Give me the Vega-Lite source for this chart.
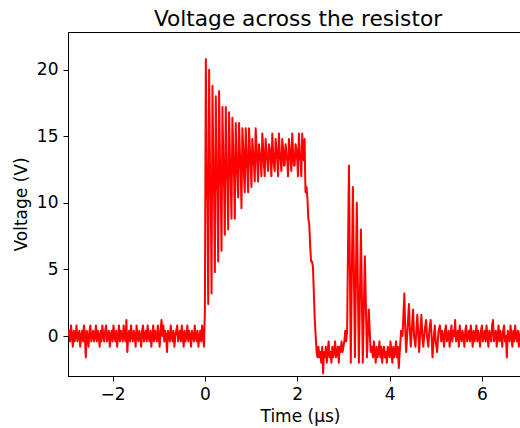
{
"$schema": "https://vega.github.io/schema/vega-lite/v6.json",
"width": 452,
"height": 344,
"autosize": "none",
"padding": {"left": 68, "top": 32, "right": 0, "bottom": 52},
"title": {"text": "Voltage across the resistor", "font": "DejaVu Sans", "fontSize": 21.7, "fontWeight": "normal", "color": "black", "anchor": "middle", "baseline": "alphabetic", "offset": 7, "dx": 4, "dy": 23},
"data": {"values": [
{"t":-2.96,"v":0},{"t":-2.94,"v":0.4},{"t":-2.92,"v":-0.4},{"t":-2.90,"v":0.8},{"t":-2.88,"v":0},{"t":-2.86,"v":-0.8},{"t":-2.84,"v":0.4},{"t":-2.82,"v":-0.4},{"t":-2.80,"v":0},{"t":-2.78,"v":0.8},
{"t":-2.76,"v":-0.4},{"t":-2.74,"v":0},{"t":-2.72,"v":0.4},{"t":-2.70,"v":-0.8},{"t":-2.68,"v":0},{"t":-2.66,"v":0.4},{"t":-2.64,"v":-0.4},{"t":-2.62,"v":0.8},{"t":-2.60,"v":0},{"t":-2.58,"v":-1.6},
{"t":-2.56,"v":0.4},{"t":-2.54,"v":0},{"t":-2.52,"v":-0.8},{"t":-2.50,"v":0.4},{"t":-2.48,"v":0.8},{"t":-2.46,"v":-0.4},{"t":-2.44,"v":0},{"t":-2.42,"v":0.4},{"t":-2.40,"v":-0.4},{"t":-2.38,"v":0},
{"t":-2.36,"v":0.8},{"t":-2.34,"v":-0.4},{"t":-2.32,"v":0.4},{"t":-2.30,"v":0},{"t":-2.28,"v":-0.8},{"t":-2.26,"v":0.4},{"t":-2.24,"v":-0.4},{"t":-2.22,"v":0.8},{"t":-2.20,"v":0},{"t":-2.18,"v":-0.4},
{"t":-2.16,"v":0.4},{"t":-2.14,"v":0.8},{"t":-2.12,"v":-0.4},{"t":-2.10,"v":0},{"t":-2.08,"v":0.4},{"t":-2.06,"v":-0.8},{"t":-2.04,"v":0},{"t":-2.02,"v":0.4},{"t":-2.00,"v":-0.4},{"t":-1.98,"v":0.8},
{"t":-1.96,"v":0},{"t":-1.94,"v":-0.4},{"t":-1.92,"v":0.4},{"t":-1.90,"v":-0.8},{"t":-1.88,"v":0},{"t":-1.86,"v":0.8},{"t":-1.84,"v":-0.4},{"t":-1.82,"v":0.4},{"t":-1.80,"v":0},{"t":-1.78,"v":-0.4},
{"t":-1.76,"v":0.8},{"t":-1.74,"v":0},{"t":-1.72,"v":-0.4},{"t":-1.70,"v":1.2},{"t":-1.68,"v":-1.2},{"t":-1.66,"v":0},{"t":-1.64,"v":0.4},{"t":-1.62,"v":-0.4},{"t":-1.60,"v":0.8},{"t":-1.58,"v":0},
{"t":-1.56,"v":-0.4},{"t":-1.54,"v":0.4},{"t":-1.52,"v":0},{"t":-1.50,"v":-0.8},{"t":-1.48,"v":0.8},{"t":-1.46,"v":0},{"t":-1.44,"v":-0.4},{"t":-1.42,"v":0.4},{"t":-1.40,"v":0},{"t":-1.38,"v":-0.8},
{"t":-1.36,"v":0.4},{"t":-1.34,"v":0.8},{"t":-1.32,"v":-0.4},{"t":-1.30,"v":0},{"t":-1.28,"v":0.4},{"t":-1.26,"v":-0.4},{"t":-1.24,"v":0.8},{"t":-1.22,"v":0},{"t":-1.20,"v":-0.4},{"t":-1.18,"v":0.4},
{"t":-1.16,"v":-0.8},{"t":-1.14,"v":0},{"t":-1.12,"v":0.8},{"t":-1.10,"v":-0.4},{"t":-1.08,"v":0.4},{"t":-1.06,"v":0},{"t":-1.04,"v":-0.4},{"t":-1.02,"v":0.8},{"t":-1.00,"v":0},{"t":-0.98,"v":-0.8},
{"t":-0.96,"v":0.4},{"t":-0.94,"v":1.2},{"t":-0.92,"v":0},{"t":-0.90,"v":0.8},{"t":-0.88,"v":-0.4},{"t":-0.86,"v":0.4},{"t":-0.84,"v":0},{"t":-0.82,"v":-1.2},{"t":-0.80,"v":0.4},{"t":-0.78,"v":0},
{"t":-0.76,"v":-0.4},{"t":-0.74,"v":0.8},{"t":-0.72,"v":0},{"t":-0.70,"v":-0.4},{"t":-0.68,"v":0.4},{"t":-0.66,"v":-0.8},{"t":-0.64,"v":0},{"t":-0.62,"v":0.4},{"t":-0.60,"v":0.8},{"t":-0.58,"v":-0.4},
{"t":-0.56,"v":0},{"t":-0.54,"v":0.4},{"t":-0.52,"v":-0.4},{"t":-0.50,"v":0.8},{"t":-0.48,"v":0},{"t":-0.46,"v":-0.8},{"t":-0.44,"v":0.4},{"t":-0.42,"v":-0.4},{"t":-0.40,"v":0},{"t":-0.38,"v":0.8},
{"t":-0.36,"v":-0.4},{"t":-0.34,"v":0.4},{"t":-0.32,"v":0},{"t":-0.30,"v":-0.8},{"t":-0.28,"v":0.4},{"t":-0.26,"v":0},{"t":-0.24,"v":-0.4},{"t":-0.22,"v":0.8},{"t":-0.20,"v":0},{"t":-0.18,"v":-0.4},
{"t":-0.16,"v":0.4},{"t":-0.14,"v":-0.8},{"t":-0.12,"v":0},{"t":-0.10,"v":0.4},{"t":-0.08,"v":-0.4},{"t":-0.06,"v":0.8},{"t":-0.04,"v":0},{"t":-0.02,"v":-0.8},
{"t":0.000,"v":2.0},{"t":0.020,"v":20.8},{"t":0.040,"v":12.4},{"t":0.056,"v":10.0},
{"t":0.072,"v":2.4},{"t":0.092,"v":20.0},{"t":0.112,"v":12.0},{"t":0.128,"v":10.4},
{"t":0.144,"v":3.2},{"t":0.164,"v":18.8},{"t":0.184,"v":12.8},{"t":0.200,"v":10.4},
{"t":0.216,"v":4.8},{"t":0.236,"v":18.0},{"t":0.256,"v":12.4},{"t":0.272,"v":10.8},
{"t":0.288,"v":5.6},{"t":0.308,"v":18.4},{"t":0.328,"v":12.8},{"t":0.344,"v":11.2},
{"t":0.360,"v":6.4},{"t":0.380,"v":17.2},{"t":0.400,"v":13.2},{"t":0.416,"v":11.2},
{"t":0.432,"v":7.6},{"t":0.452,"v":17.2},{"t":0.472,"v":12.8},{"t":0.488,"v":11.6},
{"t":0.504,"v":8.0},{"t":0.524,"v":16.8},{"t":0.544,"v":13.2},{"t":0.560,"v":11.6},
{"t":0.576,"v":8.8},{"t":0.596,"v":16.4},{"t":0.616,"v":13.6},{"t":0.632,"v":12.0},
{"t":0.648,"v":8.8},{"t":0.668,"v":16.0},{"t":0.688,"v":13.2},{"t":0.704,"v":12.0},
{"t":0.720,"v":10.4},{"t":0.740,"v":16.0},{"t":0.760,"v":13.6},{"t":0.776,"v":12.4},
{"t":0.792,"v":9.6},{"t":0.812,"v":15.6},{"t":0.832,"v":14.0},{"t":0.848,"v":12.0},
{"t":0.864,"v":10.8},{"t":0.884,"v":15.6},{"t":0.904,"v":13.6},{"t":0.920,"v":12.4},
{"t":0.936,"v":10.8},{"t":0.956,"v":15.6},{"t":0.976,"v":14.0},{"t":0.992,"v":12.8},
{"t":1.008,"v":11.2},{"t":1.028,"v":14.8},{"t":1.048,"v":13.6},{"t":1.064,"v":12.8},
{"t":1.080,"v":11.6},{"t":1.100,"v":15.6},{"t":1.120,"v":14.0},{"t":1.136,"v":12.8},
{"t":1.152,"v":11.6},{"t":1.172,"v":14.4},{"t":1.192,"v":13.6},{"t":1.208,"v":13.2},
{"t":1.224,"v":12.0},{"t":1.244,"v":15.2},{"t":1.264,"v":14.0},{"t":1.280,"v":12.8},
{"t":1.296,"v":12.0},{"t":1.316,"v":14.8},{"t":1.336,"v":13.6},{"t":1.352,"v":13.2},
{"t":1.368,"v":12.4},{"t":1.388,"v":14.4},{"t":1.408,"v":14.0},{"t":1.424,"v":13.2},
{"t":1.440,"v":12.0},{"t":1.460,"v":15.2},{"t":1.480,"v":13.6},{"t":1.496,"v":12.8},
{"t":1.512,"v":12.4},{"t":1.532,"v":14.8},{"t":1.552,"v":14.0},{"t":1.568,"v":13.2},
{"t":1.584,"v":12.0},{"t":1.604,"v":15.2},{"t":1.624,"v":13.6},{"t":1.640,"v":13.2},
{"t":1.656,"v":12.4},{"t":1.676,"v":14.8},{"t":1.696,"v":14.0},{"t":1.712,"v":12.8},
{"t":1.728,"v":12.8},{"t":1.748,"v":14.4},{"t":1.768,"v":13.6},{"t":1.784,"v":13.2},
{"t":1.800,"v":12.0},{"t":1.820,"v":14.8},{"t":1.840,"v":14.0},{"t":1.856,"v":13.2},
{"t":1.872,"v":12.4},{"t":1.892,"v":15.2},{"t":1.912,"v":13.6},{"t":1.928,"v":12.8},
{"t":1.944,"v":12.8},{"t":1.964,"v":14.4},{"t":1.984,"v":14.0},{"t":2.000,"v":13.2},
{"t":2.016,"v":12.0},{"t":2.036,"v":15.2},{"t":2.056,"v":13.6},{"t":2.072,"v":13.2},
{"t":2.088,"v":12.0},{"t":2.108,"v":15.2},{"t":2.128,"v":13.6},{"t":2.144,"v":13.2},
{"t":2.16,"v":14.8},{"t":2.17,"v":12.4},{"t":2.18,"v":10.8},{"t":2.20,"v":11.2},{"t":2.22,"v":10.4},{"t":2.24,"v":8.8},{"t":2.26,"v":8.4},{"t":2.28,"v":6.8},{"t":2.30,"v":5.6},{"t":2.32,"v":5.6},{"t":2.34,"v":5.2},{"t":2.36,"v":3.2},{"t":2.38,"v":1.2},{"t":2.40,"v":0},{"t":2.42,"v":-1.2},
{"t":2.44,"v":-1.6},{"t":2.46,"v":-0.8},{"t":2.48,"v":-1.6},{"t":2.50,"v":-1.2},{"t":2.52,"v":-2.0},{"t":2.54,"v":-0.8},{"t":2.56,"v":-2.8},{"t":2.58,"v":-1.2},{"t":2.60,"v":-1.6},{"t":2.62,"v":-0.8},
{"t":2.64,"v":-2.0},{"t":2.66,"v":-1.2},{"t":2.68,"v":-0.4},{"t":2.70,"v":-1.6},{"t":2.72,"v":-1.2},{"t":2.74,"v":-2.0},{"t":2.76,"v":-0.8},{"t":2.78,"v":-1.6},{"t":2.80,"v":-1.2},{"t":2.82,"v":-0.4},
{"t":2.84,"v":-1.6},{"t":2.86,"v":-1.2},{"t":2.88,"v":-0.8},{"t":2.90,"v":-2.0},{"t":2.92,"v":-0.8},{"t":2.94,"v":-1.2},{"t":2.96,"v":-0.4},{"t":2.98,"v":-1.2},{"t":3.00,"v":-0.8},{"t":3.02,"v":-0.4},
{"t":3.04,"v":0.4},{"t":3.06,"v":-0.4},{"t":3.08,"v":0.4},{"t":3.12,"v":12.8},{"t":3.16,"v":-2.0},{"t":3.205,"v":11.2},{"t":3.25,"v":-1.6},{"t":3.29,"v":10.0},{"t":3.335,"v":-2.0},{"t":3.38,"v":8.0},{"t":3.42,"v":-2.0},{"t":3.465,"v":6.0},{"t":3.51,"v":-1.6},{"t":3.55,"v":2.0},{"t":3.59,"v":-1.2},
{"t":3.62,"v":-0.8},{"t":3.64,"v":-1.6},{"t":3.66,"v":-0.4},{"t":3.68,"v":-1.2},{"t":3.70,"v":-2.0},{"t":3.72,"v":-0.8},{"t":3.74,"v":-1.6},{"t":3.76,"v":-1.2},{"t":3.78,"v":-0.4},{"t":3.80,"v":-1.6},
{"t":3.82,"v":-0.8},{"t":3.84,"v":-2.0},{"t":3.86,"v":-1.2},{"t":3.88,"v":-0.8},{"t":3.90,"v":-1.6},{"t":3.92,"v":-1.2},{"t":3.94,"v":-2.0},{"t":3.96,"v":-0.8},{"t":3.98,"v":-1.2},{"t":4.00,"v":-1.6},
{"t":4.02,"v":-0.4},{"t":4.04,"v":-1.2},{"t":4.06,"v":-2.0},{"t":4.08,"v":-0.8},{"t":4.10,"v":-1.6},{"t":4.12,"v":-1.2},{"t":4.14,"v":-0.4},{"t":4.16,"v":-1.6},{"t":4.18,"v":-0.8},{"t":4.20,"v":-2.4},
{"t":4.22,"v":-1.2},{"t":4.25,"v":0.4},{"t":4.28,"v":0},{"t":4.32,"v":3.2},{"t":4.34,"v":0.4},{"t":4.36,"v":-1.2},{"t":4.38,"v":0},{"t":4.42,"v":2.4},{"t":4.44,"v":0.4},{"t":4.46,"v":-0.8},
{"t":4.48,"v":0.4},{"t":4.51,"v":2.0},{"t":4.53,"v":0},{"t":4.56,"v":-0.8},{"t":4.58,"v":0.4},{"t":4.60,"v":1.6},{"t":4.62,"v":0.4},{"t":4.64,"v":-1.2},{"t":4.66,"v":0},{"t":4.69,"v":1.6},
{"t":4.71,"v":0},{"t":4.73,"v":-0.8},{"t":4.76,"v":0.4},{"t":4.79,"v":1.2},{"t":4.81,"v":0},{"t":4.84,"v":-0.8},{"t":4.86,"v":0.4},{"t":4.89,"v":1.2},{"t":4.91,"v":0},{"t":4.93,"v":-1.6},
{"t":4.96,"v":0},{"t":4.98,"v":0.8},{"t":5.00,"v":-0.4},{"t":5.03,"v":-1.2},{"t":5.06,"v":0.4},{"t":5.09,"v":0.8},
{"t":5.12,"v":-0.4},{"t":5.14,"v":0.4},{"t":5.16,"v":0},{"t":5.18,"v":-0.8},{"t":5.20,"v":0.4},{"t":5.22,"v":0.8},{"t":5.24,"v":-0.4},{"t":5.26,"v":0},{"t":5.28,"v":0.4},{"t":5.30,"v":-0.8},
{"t":5.32,"v":0},{"t":5.34,"v":0.8},{"t":5.36,"v":-0.4},{"t":5.38,"v":0.4},{"t":5.40,"v":0},{"t":5.42,"v":1.2},{"t":5.44,"v":-0.4},{"t":5.46,"v":0},{"t":5.48,"v":0.4},{"t":5.50,"v":-0.8},
{"t":5.52,"v":0.8},{"t":5.54,"v":0},{"t":5.56,"v":-0.4},{"t":5.58,"v":0.4},{"t":5.60,"v":0},{"t":5.62,"v":-0.8},{"t":5.64,"v":0.4},{"t":5.66,"v":0.8},{"t":5.68,"v":-0.4},{"t":5.70,"v":0},
{"t":5.72,"v":0.4},{"t":5.74,"v":-0.4},{"t":5.76,"v":0.8},{"t":5.78,"v":0},{"t":5.80,"v":-0.8},{"t":5.82,"v":0.4},{"t":5.84,"v":-0.4},{"t":5.86,"v":0},{"t":5.88,"v":0.8},{"t":5.90,"v":-0.4},
{"t":5.92,"v":0.4},{"t":5.94,"v":0},{"t":5.96,"v":-0.8},{"t":5.98,"v":0.4},{"t":6.00,"v":0.8},{"t":6.02,"v":-0.4},{"t":6.04,"v":0},{"t":6.06,"v":0.4},{"t":6.08,"v":-0.4},{"t":6.10,"v":0.8},
{"t":6.12,"v":0},{"t":6.14,"v":-0.8},{"t":6.16,"v":0.4},{"t":6.18,"v":0},{"t":6.20,"v":-0.4},{"t":6.22,"v":0.8},{"t":6.24,"v":1.2},{"t":6.26,"v":-0.4},{"t":6.28,"v":0},{"t":6.30,"v":0.4},
{"t":6.32,"v":-0.8},{"t":6.34,"v":0},{"t":6.36,"v":0.8},{"t":6.38,"v":-0.4},{"t":6.40,"v":0.4},{"t":6.42,"v":0},{"t":6.44,"v":-0.8},{"t":6.46,"v":0.4},{"t":6.48,"v":0.8},{"t":6.50,"v":-0.4},
{"t":6.52,"v":0},{"t":6.54,"v":-1.6},{"t":6.56,"v":0.4},{"t":6.58,"v":0},{"t":6.60,"v":-0.4},{"t":6.62,"v":0.8},{"t":6.64,"v":0},{"t":6.66,"v":-0.8},{"t":6.68,"v":0.4},{"t":6.70,"v":-0.4},
{"t":6.72,"v":0.8},{"t":6.74,"v":0},{"t":6.76,"v":-0.4},{"t":6.78,"v":0.4},{"t":6.80,"v":-0.8},{"t":6.82,"v":0},{"t":6.84,"v":0.4},{"t":6.86,"v":-0.4},{"t":6.88,"v":0.8},{"t":6.90,"v":0}
]},
"mark": {"type": "line", "color": "#ff0000", "strokeWidth": 2, "strokeJoin": "round", "clip": true},
"encoding": {
"x": {"field": "t", "type": "quantitative", "sort": null,
"scale": {"domain": [-2.965, 6.825], "nice": false, "zero": false},
"axis": {"values": [-2, 0, 2, 4, 6], "title": "Time (μs)", "labelExpr": "replace(datum.label, '-', '−')", "labelPadding": 5, "titlePadding": 6, "labelFlush": false, "titleX": 232}},
"y": {"field": "v", "type": "quantitative",
"scale": {"domain": [-3.0, 22.83], "nice": false, "zero": false},
"axis": {"values": [0, 5, 10, 15, 20], "title": "Voltage (V)", "labelPadding": 5, "titlePadding": 6}}
},
"config": {
"background": "white",
"view": {"stroke": "black", "strokeWidth": 1},
"axis": {"labelFont": "DejaVu Sans", "labelFontSize": 17, "labelColor": "black", "titleFont": "DejaVu Sans", "titleFontSize": 17, "titleFontWeight": "normal", "titleColor": "black", "tickColor": "black", "tickSize": 5, "tickWidth": 1, "domainColor": "black", "domainWidth": 1, "grid": false}
}
}
